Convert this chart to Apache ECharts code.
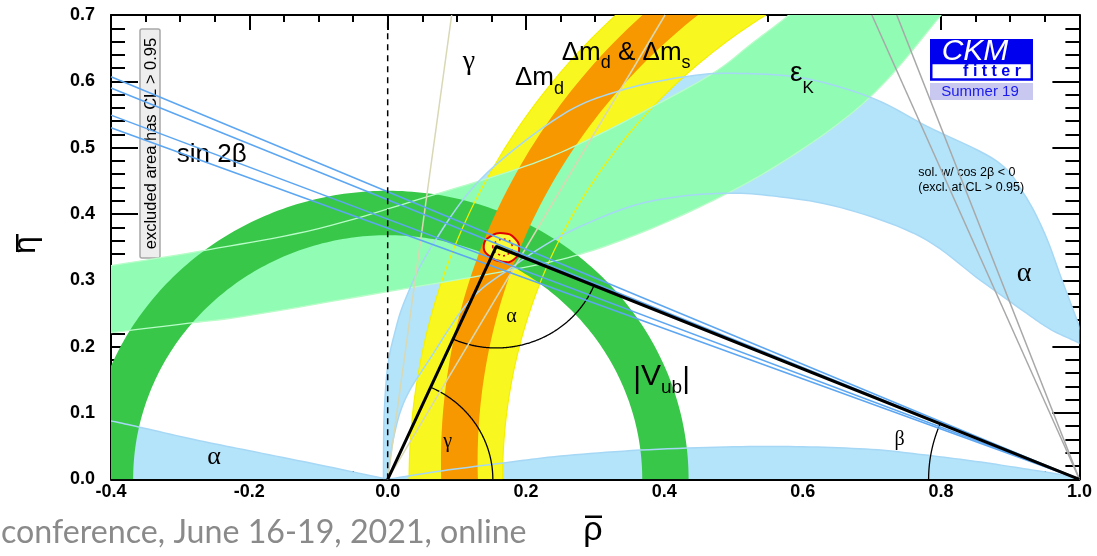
<!DOCTYPE html>
<html>
<head>
<meta charset="utf-8">
<script src="https://cdn.jsdelivr.net/npm/echarts@6/dist/echarts.min.js"></script>
<style>
  html, body { margin: 0; background: #fff; }
  #chart { width: 1097px; height: 556px; }
</style>
</head>
<body>
<div id="chart"></div>
<script>
// axis ticks
const rhoTicks = [-0.4, -0.2, 0.0, 0.2, 0.4, 0.6, 0.8, 1.0];
const etaTicks = [0.0, 0.1, 0.2, 0.3, 0.4, 0.5, 0.6, 0.7];

// global fit: apex of the unitarity triangle
const apex = [0.157, 0.351];
const triangle = [[0, 0], apex, [1, 0]];
const fit95 = [[0.139, 0.353], [0.148, 0.366], [0.167, 0.371], [0.184, 0.363], [0.190, 0.346], [0.182, 0.331], [0.167, 0.328], [0.145, 0.338]];
const fit68 = [[0.152, 0.350], [0.160, 0.360], [0.173, 0.361], [0.180, 0.352], [0.176, 0.341], [0.163, 0.338]];

// |Vub| ring around (0,0)
const vubCenter = [0, 0];
const vubRadii = [0.368, 0.435];
// Δmd ring and Δmd & Δms ring around (1,0)
const dmdCenter = [1.0, 0.0];
const dmdRadii = [0.834, 0.969];
const dmsCenter = [1.0, 0.027];
const dmsRadii = [0.870, 0.923];

// εK band edges [rho, eta]
const ekUpper = [[-0.42, 0.318], [-0.4, 0.322], [-0.26, 0.346], [-0.1, 0.378], [0.07, 0.430], [0.21, 0.476], [0.30, 0.517], [0.38, 0.560], [0.47, 0.612], [0.53, 0.660], [0.58, 0.70], [0.62, 0.74]];
const ekLower = [[-0.42, 0.218], [-0.4, 0.221], [-0.29, 0.235], [-0.2, 0.247], [0.0, 0.283], [0.15, 0.310], [0.26, 0.334], [0.35, 0.365], [0.45, 0.410], [0.55, 0.465], [0.65, 0.535], [0.72, 0.60], [0.80, 0.70], [0.83, 0.74]];

// α regions
const alphaOuter = [[-0.006, -0.01], [-0.006, 0.03], [-0.005, 0.10], [0.0, 0.17], [0.010, 0.22], [0.025, 0.27], [0.06, 0.345], [0.134, 0.452], [0.25, 0.548], [0.336, 0.586], [0.43, 0.607], [0.50, 0.612], [0.60, 0.605], [0.70, 0.575], [0.78, 0.532], [0.88, 0.48], [0.92, 0.43], [0.95, 0.37], [0.975, 0.30], [1.0, 0.23], [1.02, 0.17]];
const alphaInner = [[1.02, 0.19], [1.0, 0.205], [0.96, 0.225], [0.924, 0.25], [0.857, 0.30], [0.77, 0.366], [0.654, 0.41], [0.55, 0.428], [0.476, 0.431], [0.40, 0.423], [0.336, 0.406], [0.249, 0.366], [0.18, 0.32], [0.119, 0.27], [0.06, 0.18], [0.025, 0.12], [0.008, 0.06], [0.0, 0.0], [-0.002, -0.01]];
const alphaLowLeft = [[-0.42, 0.093], [-0.4, 0.088], [-0.36, 0.079], [-0.28, 0.060], [-0.2, 0.043], [-0.1, 0.022], [0.0, 0.0]];
const alphaLowRight = [[0.0, 0.0], [0.08, 0.013], [0.17, 0.025], [0.25, 0.035], [0.365, 0.044], [0.5, 0.049], [0.6, 0.049], [0.7, 0.045], [0.774, 0.037], [0.85, 0.027], [0.92, 0.016], [0.968, 0.008], [1.0, 0.0]];

// sin 2β lines: eta at rho = -0.4, all meet at (1,0)
const sin2bLeft = [0.607, 0.590, 0.549, 0.530];
// γ lines from the origin: rho at eta = 0.7
const gammaTop = [0.0925, 0.401];
// cos 2β < 0 solution lines: rho at eta = 0.7
const cos2bTop = [0.700, 0.736];

// angle arc radii
const gammaArcR = 0.152;
const alphaArcR = 0.153;
const betaArcR = 0.218;

const SANS = '"Liberation Sans", Arial, Helvetica, sans-serif';
const SERIF = '"Liberation Serif", "Times New Roman", serif';

const mctx = document.createElement('canvas').getContext('2d');
function textWidth(t, font) { mctx.font = font; return mctx.measureText(t).width; }

function toPx(api, pts) { return pts.map(p => api.coord(p)); }

// catmull-rom through pixel points
function spline(px, steps) {
  steps = steps || 10;
  const out = [];
  for (let i = 0; i < px.length - 1; i++) {
    const p0 = px[Math.max(i - 1, 0)], p1 = px[i], p2 = px[i + 1], p3 = px[Math.min(i + 2, px.length - 1)];
    for (let s = 0; s < steps; s++) {
      const t = s / steps, t2 = t * t, t3 = t2 * t;
      out.push([0, 1].map(k => 0.5 * (2 * p1[k] + (-p0[k] + p2[k]) * t + (2 * p0[k] - 5 * p1[k] + 4 * p2[k] - p3[k]) * t2 + (-p0[k] + 3 * p1[k] - 3 * p2[k] + p3[k]) * t3)));
    }
  }
  out.push(px[px.length - 1]);
  return out;
}

function ringPoints(api, c, r, a0, a1) {
  const n = 200, pts = [];
  for (let i = 0; i <= n; i++) {
    const a = a0 + (a1 - a0) * i / n;
    pts.push(api.coord([c[0] + r * Math.cos(a), c[1] + r * Math.sin(a)]));
  }
  return pts;
}

function ring(api, c, radii, a0, a1, fill) {
  const pts = ringPoints(api, c, radii[1], a0, a1).concat(ringPoints(api, c, radii[0], a1, a0));
  return { type: 'polygon', shape: { points: pts }, style: { fill: fill } };
}

function edge(api, pts, color, width) {
  return { type: 'polyline', shape: { points: spline(toPx(api, pts)) }, style: { stroke: color, lineWidth: width, fill: null } };
}

function layer(render) {
  return {
    type: 'custom', coordinateSystem: 'cartesian2d', clip: true, silent: true,
    data: [[0, 0]],
    renderItem: function (params, api) {
      const cs = params.coordSys;
      return {
        type: 'group',
        clipPath: { type: 'rect', shape: { x: cs.x, y: cs.y, width: cs.width, height: cs.height } },
        children: render(api)
      };
    }
  };
}

function segment(data, color, width, dash) {
  return {
    type: 'line', data: data, symbol: 'none', silent: true, clip: true,
    lineStyle: { color: color, width: width, type: dash || 'solid' }
  };
}

// text run on a common baseline: parts = [text, size, baselineShift, family]
function run(api, at, parts, align) {
  const p = api.coord(at);
  const fonts = parts.map(q => q[1] + 'px ' + (q[3] || SANS));
  const total = parts.reduce((s, q, i) => s + textWidth(q[0], fonts[i]), 0);
  let x = align === 'center' ? p[0] - total / 2 : p[0];
  return parts.map((q, i) => {
    const el = {
      type: 'text', x: x, y: p[1] + q[2] - 0.3465 * q[1],
      style: { text: q[0], font: fonts[i], fill: '#000', textAlign: 'left', textVerticalAlign: 'middle', align: 'left', verticalAlign: 'middle' }
    };
    x += textWidth(q[0], fonts[i]);
    return el;
  });
}

const series = [];

// α (light blue)
series.push(layer(api => {
  const fill = '#b4e4fa';
  const big = spline(toPx(api, alphaOuter)).concat(spline(toPx(api, alphaInner)));
  const ll = spline(toPx(api, alphaLowLeft)).concat(toPx(api, [[0, 0], [-0.42, 0]]));
  const lr = spline(toPx(api, alphaLowRight)).concat(toPx(api, [[1, 0], [0, 0]]));
  return [big, ll, lr].map(pts => ({ type: 'polygon', shape: { points: pts }, style: { fill: fill } }));
}));

// Δmd (yellow)
series.push(layer(api => [ring(api, dmdCenter, dmdRadii, 0.3, Math.PI + 0.05, '#f8f820')]));

// εK (light green)
series.push(layer(api => {
  const pts = spline(toPx(api, ekUpper)).concat(spline(toPx(api, ekLower.slice().reverse())));
  return [{ type: 'polygon', shape: { points: pts }, style: { fill: '#90fcb4' } }];
}));

// |Vub| (green)
series.push(layer(api => [ring(api, vubCenter, vubRadii, -0.05, Math.PI + 0.05, '#39c74a')]));

// Δmd & Δms (orange)
series.push(layer(api => [ring(api, dmsCenter, dmsRadii, 0.3, Math.PI + 0.1, '#f89800')]));

// band outlines
series.push(layer(api => {
  const els = [];
  dmdRadii.forEach(r => els.push({ type: 'polyline', shape: { points: ringPoints(api, dmdCenter, r, 0.3, Math.PI) }, style: { stroke: '#f4f000', lineWidth: 1.2, fill: null } }));
  els.push(edge(api, ekUpper, '#b8fcc8', 1.3));
  els.push(edge(api, ekLower, '#b8fcc8', 1.3));
  els.push(edge(api, alphaOuter, '#a6d8f6', 1.5));
  els.push(edge(api, alphaInner, '#a6d8f6', 1.5));
  els.push(edge(api, alphaLowLeft, '#a6d8f6', 1.5));
  els.push(edge(api, alphaLowRight, '#a6d8f6', 1.5));
  return els;
}));

// γ lines, cos 2β < 0 lines, sin 2β lines
gammaTop.forEach(r => series.push(segment([[0, 0], [r, 0.7]], '#d8d8b4', 1.5)));
cos2bTop.forEach(r => series.push(segment([[r, 0.7], [1, 0]], '#a8a8a8', 1.5)));
sin2bLeft.forEach(e => series.push(segment([[-0.4, e], [1, 0]], '#5ca6f2', 1.5)));

// fit region
series.push(layer(api => [
  { type: 'polygon', shape: { points: toPx(api, fit95), smooth: 0.5 }, style: { fill: '#fafa3c', stroke: '#e00000', lineWidth: 2 } },
  { type: 'polygon', shape: { points: toPx(api, fit68), smooth: 0.5 }, style: { fill: null, stroke: '#e00000', lineWidth: 1.5, lineDash: [2, 3] } }
]));

// ρ = 0 dashed line and triangle
series.push(segment([[0, 0], [0, 0.7]], '#000', 1.5, [6, 5]));
series.push(segment(triangle, '#000', 3));

// angle arcs
series.push(layer(api => {
  const st = { stroke: '#000', lineWidth: 1.3, fill: null };
  const aL = Math.atan2(-apex[1], -apex[0]), aR = Math.atan2(-apex[1], 1 - apex[0]);
  return [
    { type: 'polyline', shape: { points: ringPoints(api, [0, 0], gammaArcR, 0, Math.atan2(apex[1], apex[0])) }, style: st },
    { type: 'polyline', shape: { points: ringPoints(api, apex, alphaArcR, aL, aR) }, style: st },
    { type: 'polyline', shape: { points: ringPoints(api, [1, 0], betaArcR, Math.atan2(apex[1], apex[0] - 1), Math.PI) }, style: st }
  ];
}));

// labels
series.push(layer(api => [].concat(
  run(api, [-0.305, 0.4753], [['sin 2β', 26, 0]]),
  run(api, [0.184, 0.591], [['Δm', 26, 0], ['d', 18, 8]]),
  run(api, [0.2516, 0.6296], [['Δm', 26, 0], ['d', 18, 8], [' & Δm', 26, 0], ['s', 18, 8]]),
  run(api, [0.5816, 0.597], [['ε', 28, 0], ['K', 17, 11]]),
  run(api, [0.355, 0.1396], [['|', 30, 3], ['V', 30, 0], ['ub', 19, 7.5], ['|', 30, 3]]),
  run(api, [0.1176, 0.6148], [['γ', 28, 0, SERIF]], 'center'),
  run(api, [0.920, 0.2954], [['α', 28, 0, SERIF]], 'center'),
  run(api, [-0.2511, 0.0201], [['α', 26, 0, SERIF]], 'center'),
  run(api, [0.179, 0.2347], [['α', 20, 0, SERIF]], 'center'),
  run(api, [0.0867, 0.0458], [['γ', 20, 0, SERIF]], 'center'),
  run(api, [0.740, 0.0499], [['β', 20, 0, SERIF]], 'center'),
  run(api, [0.767, 0.4553], [['sol. w/ cos 2β < 0', 12.5, 0]]),
  run(api, [0.767, 0.4336], [['(excl. at CL > 0.95)', 12.5, 0]])
)));

const tickStyle = { color: '#000', width: 2 };
function xAx(pos, major, minor, labels) {
  return {
    type: 'value', position: pos, min: rhoTicks[0], max: rhoTicks[rhoTicks.length - 1],
    interval: rhoTicks[1] - rhoTicks[0],
    axisLine: { onZero: false, lineStyle: { color: '#000', width: 2 } },
    axisTick: { inside: true, length: major, lineStyle: tickStyle },
    minorTick: { show: true, splitNumber: 4, length: minor, lineStyle: tickStyle },
    splitLine: { show: false },
    axisLabel: { show: labels, margin: 4, color: '#000', fontFamily: SANS, fontWeight: 'bold', fontSize: 18, formatter: v => v.toFixed(1) }
  };
}
function yAx(pos, major, minor, labels) {
  return {
    type: 'value', position: pos, min: etaTicks[0], max: etaTicks[etaTicks.length - 1],
    interval: etaTicks[1] - etaTicks[0],
    axisLine: { onZero: false, lineStyle: { color: '#000', width: 2 } },
    axisTick: { inside: true, length: major, lineStyle: tickStyle },
    minorTick: { show: true, splitNumber: 5, length: minor, lineStyle: tickStyle },
    splitLine: { show: false },
    axisLabel: { show: labels, margin: 16, color: '#000', fontFamily: SANS, fontWeight: 'bold', fontSize: 18, formatter: v => v.toFixed(1) }
  };
}

// footer text is fitted to its width on the slide
const footText = 'conference, June 16-19, 2021, online';
const footFont = 'Lato, "Noto Sans", sans-serif';
const footSize = 100 * 525 / textWidth(footText, '100px ' + footFont);

const chart = echarts.init(document.getElementById('chart'));
chart.setOption({
  animation: false,
  backgroundColor: '#fff',
  grid: { left: 111, right: 17.6, top: 15, bottom: 76.7, containLabel: false, outerBoundsMode: 'none' },
  xAxis: [xAx('bottom', 14, 8, true), xAx('top', 15, 7, false)],
  yAxis: [yAx('left', 27, 14, true), yAx('right', 27, 14, false)],
  series: series,
  graphic: [
    // axis titles
    { type: 'text', x: 593, y: 531, style: { text: 'ρ', font: '34px ' + SANS, fill: '#000', textAlign: 'center', textVerticalAlign: 'middle' } },
    { type: 'rect', shape: { x: 585, y: 515.5, width: 17, height: 2.5 }, style: { fill: '#000' } },
    { type: 'text', x: 26, y: 245, rotation: Math.PI / 2, style: { text: 'η', font: '32px ' + SANS, fill: '#000', textAlign: 'center', textVerticalAlign: 'middle' } },
    { type: 'rect', shape: { x: 16, y: 234, width: 2.5, height: 18 }, style: { fill: '#000' } },
    // exclusion note
    { type: 'rect', shape: { x: 140, y: 29, width: 20, height: 229, r: 2 }, style: { fill: '#eeeeee', stroke: '#a8a8a8', lineWidth: 1.5 } },
    { type: 'text', x: 151, y: 143.5, rotation: Math.PI / 2, style: { text: 'excluded area has CL > 0.95', font: '16.5px ' + SANS, fill: '#000', textAlign: 'center', textVerticalAlign: 'middle' } },
    // CKMfitter logo
    { type: 'rect', shape: { x: 930, y: 39, width: 103, height: 24 }, style: { fill: '#0000ee' } },
    { type: 'text', x: 975, y: 51.6, style: { text: 'CKM', font: 'italic 30px ' + SANS, fill: '#fff', textAlign: 'center', textVerticalAlign: 'middle' } },
    { type: 'rect', shape: { x: 931.25, y: 63, width: 100.5, height: 16.5 }, style: { fill: '#fff', stroke: '#0000ee', lineWidth: 2.5 } },
    { type: 'text', x: 992, y: 71.8, style: { text: 'f i t t e r', font: 'bold 16px ' + SANS, fill: '#0000ee', textAlign: 'center', textVerticalAlign: 'middle' } },
    { type: 'rect', shape: { x: 930, y: 83, width: 103, height: 17 }, style: { fill: '#c8c8f0' } },
    { type: 'text', x: 980, y: 91.5, style: { text: 'Summer 19', font: '15px ' + SANS, fill: '#1a1aee', textAlign: 'center', textVerticalAlign: 'middle' } },
    // slide footer
    { type: 'text', x: 1, y: 533, style: { text: footText, font: footSize.toFixed(1) + 'px ' + footFont, fill: '#8a8a8a', textAlign: 'left', textVerticalAlign: 'middle' } }
  ]
});
</script>
</body>
</html>
